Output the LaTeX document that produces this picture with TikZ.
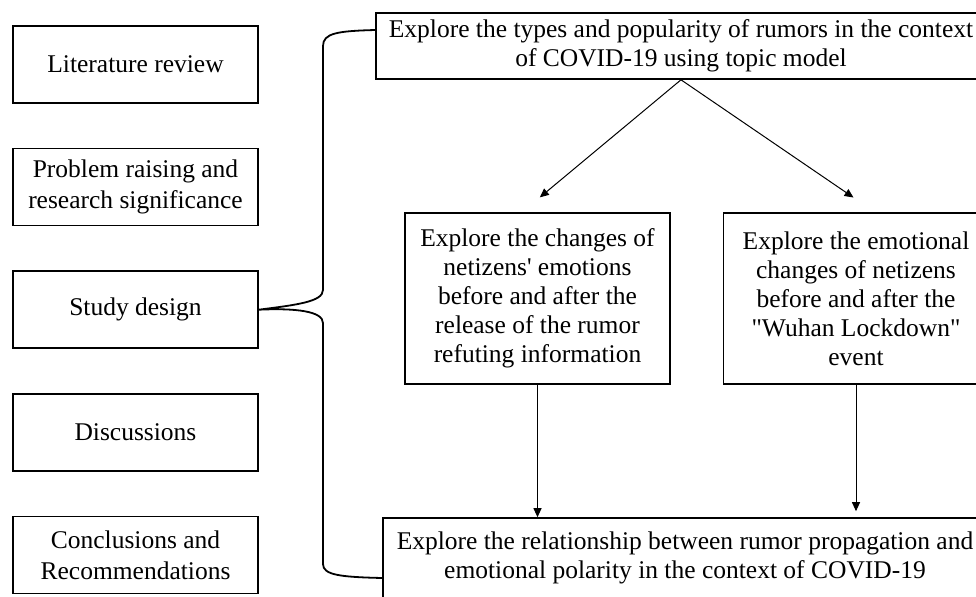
\documentclass[tikz,border=0pt]{standalone}
\usepackage{fontspec}
\setmainfont{Liberation Serif}[Ligatures=TeXOff]
\usetikzlibrary{arrows.meta,positioning}

\begin{document}
\begin{tikzpicture}[
  x=0.5pt, y=0.5pt,
  node distance=22pt,
  stagebox/.style={draw, line width=0.8pt, minimum width=122.5pt, minimum height=38.5pt,
    align=center, inner sep=2pt, font=\fontsize{12.75}{15.5}\selectfont},
  taskbox/.style={draw, line width=0.8pt, align=center, inner sep=2pt,
    font=\fontsize{12.75}{14.5}\selectfont},
  arrow/.style={-{Triangle[length=4.5pt,width=4pt]}, line width=0.5pt},
  brace/.style={line width=0.9pt}
]
\useasboundingbox (0,0) rectangle (976,-596);
\clip (0,0) rectangle (976,-596);

\node[stagebox] (lit) at (135.5,-64.5) {Literature review};
\node[stagebox, below=of lit] (problem) {Problem raising and\\research significance};
\node[stagebox, below=of problem] (design) {Study design};
\node[stagebox, below=of design] (discuss) {Discussions};
\node[stagebox, below=of discuss] (concl) {Conclusions and\\Recommendations};

\node[taskbox, minimum width=305pt, minimum height=33pt] (topics) at (681,-46)
  {Explore the types and popularity of rumors in the context\\of COVID-19 using topic model};
\node[taskbox, minimum width=132.5pt, minimum height=85.5pt] (refute) at (537.5,-298.5)
  {Explore the changes of\\netizens' emotions\\before and after the\\release of the rumor\\refuting information};
\node[taskbox, minimum width=132.5pt, minimum height=85.5pt] (lockdown) at (856,-298.5)
  {Explore the emotional\\changes of netizens\\before and after the\\"Wuhan Lockdown"\\event};
\node[taskbox, minimum width=302pt, minimum height=40pt] (relation) at (685,-558)
  {Explore the relationship between rumor propagation and\\emotional polarity in the context of COVID-19};

\draw[arrow, shorten >=11.6pt] (topics.south) -- ([xshift=-7.75pt]refute.north);
\draw[arrow, shorten >=13pt] (topics.south) -- ([xshift=9.5pt]lockdown.north);
\draw[arrow] (refute.south) -- (refute.south |- relation.north);
\draw[arrow, shorten >=3pt] (lockdown.south) -- (lockdown.south |- relation.north);

\draw[brace] ([yshift=8pt]topics.west) .. controls (338,-31) and (323,-33) .. (323,-46)
  -- (323,-290) .. controls (323,-302) and (295,-305) .. (design.east)
  .. controls (295,-308) and (323,-311) .. (323,-323) -- (323,-564)
  .. controls (323,-575) and (340,-577) .. ([yshift=-10pt]relation.west);
\end{tikzpicture}
\end{document}
